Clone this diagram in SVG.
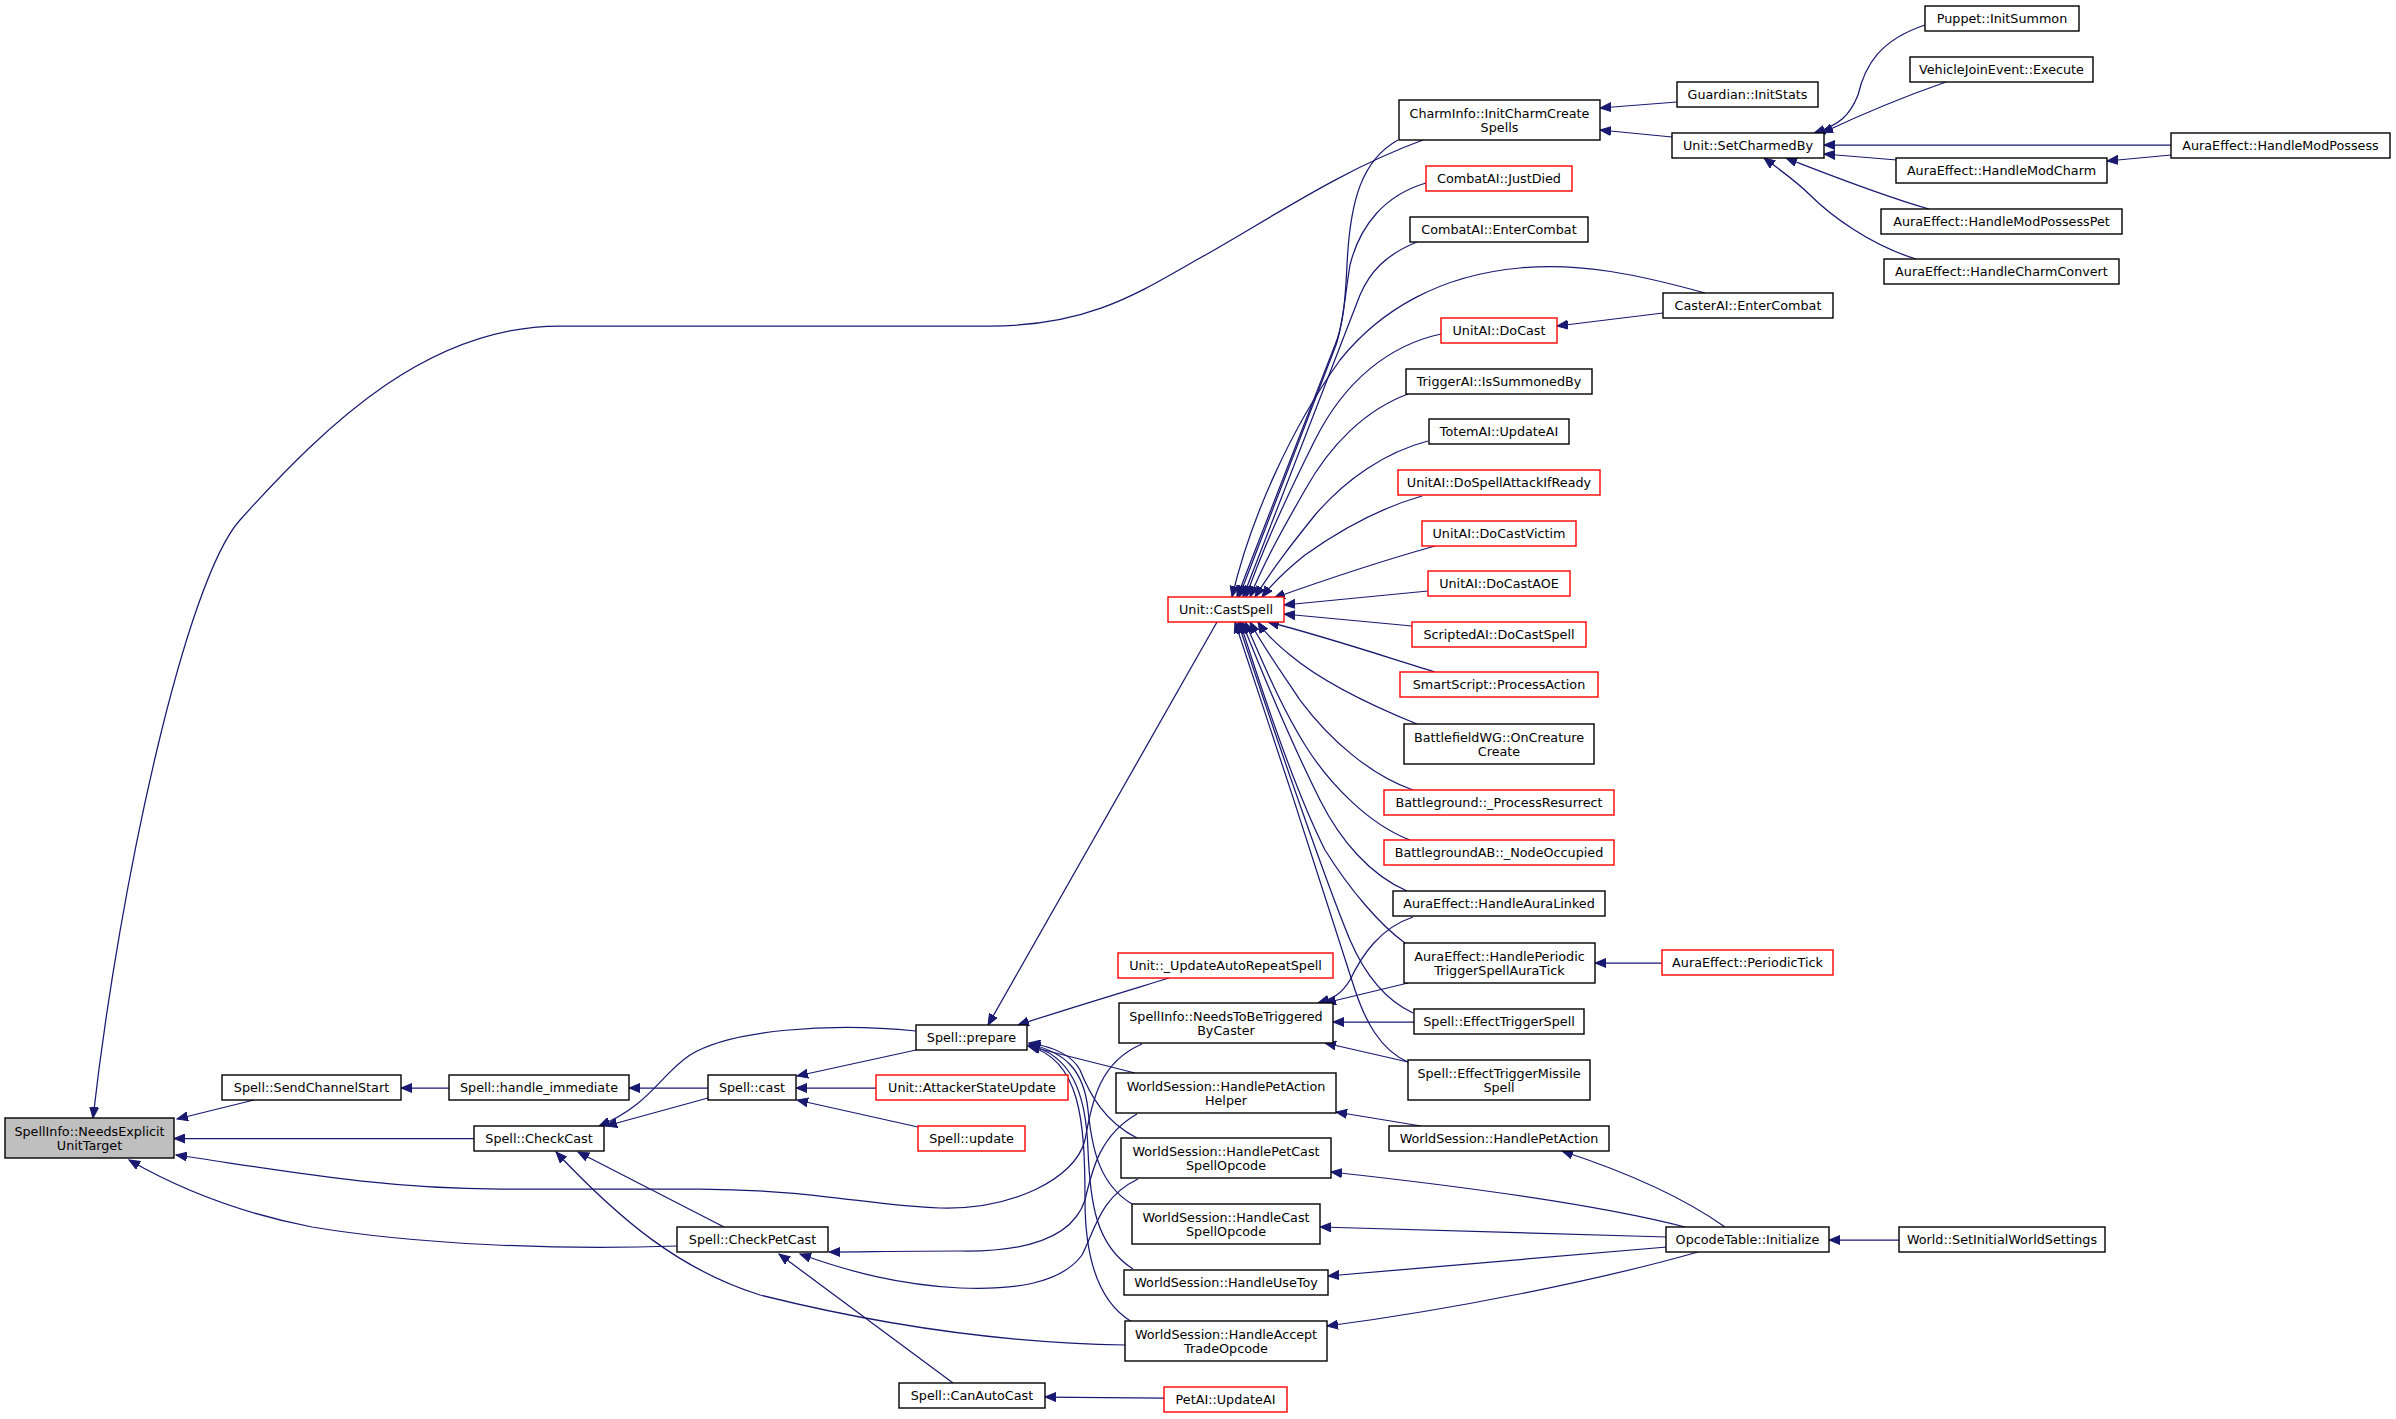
<svg xmlns="http://www.w3.org/2000/svg" width="2396" height="1419" viewBox="0 0 2396 1419">
<style>
.n rect{fill:#fff;stroke:#000;stroke-width:1.4}
.r rect{fill:#fff;stroke:#f00;stroke-width:1.4}
.root rect{fill:#bfbfbf;stroke:#000;stroke-width:1.4}
text{font-family:"DejaVu Sans","Liberation Sans",sans-serif;font-size:12.75px;text-anchor:middle;fill:#000}
.e path{fill:none;stroke:#191970;stroke-width:1.25;marker-end:url(#a)}
</style>
<defs>
<marker id="a" markerWidth="12" markerHeight="10" refX="11" refY="5" orient="auto" markerUnits="userSpaceOnUse">
<path d="M0,0.5 L11,5 L0,9.5 z" fill="#191970" stroke="#191970" stroke-width="1"/>
</marker>
</defs>
<rect width="2396" height="1419" fill="#fff"/>
<g class="e" id="edges">
<path d="M1423,140 C1340,170 1260,225 1200,258 C1140,292 1090,326 990,326 L560,326 C430,326 330,420 240,520 C186,580 120,880 93,1118"/>
<path d="M254,1100 L177,1119"/>
<path d="M449,1088 L401,1088"/>
<path d="M474,1138.5 L174,1138.5"/>
<path d="M677,1246 C560,1250 420,1245 312,1227 C250,1215 190,1195 129,1160"/>
<path d="M1142,1044 C1100,1062 1092,1100 1085,1140 C1075,1180 1010,1210 940,1208 C870,1206 820,1190 700,1189 L500,1189 C380,1189 280,1170 176,1155"/>
<path d="M708,1088 L629,1088"/>
<path d="M708,1098 L606,1126"/>
<path d="M916,1031 C830,1022 730,1030 690,1055 C660,1075 650,1105 599,1126"/>
<path d="M916,1050 L797,1076"/>
<path d="M876,1088 L796,1088"/>
<path d="M918,1127 L797,1100"/>
<path d="M1217,622 L988,1025"/>
<path d="M1169,978 C1130,990 1070,1008 1018,1025"/>
<path d="M1135,1073 L1028,1046"/>
<path d="M1137,1138 C1105,1122 1090,1095 1080,1070 C1072,1055 1055,1047 1029,1043"/>
<path d="M1132,1204 C1100,1185 1092,1150 1088,1110 C1084,1070 1065,1052 1029,1044"/>
<path d="M1133,1269 C1095,1245 1090,1200 1088,1150 C1086,1090 1070,1055 1029,1045"/>
<path d="M1132,1322 C1095,1300 1085,1250 1085,1200 C1085,1120 1080,1060 1029,1046"/>
<path d="M1137,1114 C1100,1135 1092,1170 1085,1200 C1072,1240 1020,1252 960,1251 C900,1251 860,1252 829,1252"/>
<path d="M1138,1179 C1100,1197 1095,1230 1082,1255 C1060,1285 1010,1290 960,1288 C900,1285 850,1272 800,1254"/>
<path d="M953,1383 L779,1254"/>
<path d="M1164,1398 L1045,1397"/>
<path d="M1125,1345 C1000,1343 880,1325 760,1295 C680,1270 620,1220 556,1152"/>
<path d="M724,1227 L578,1152"/>
<path d="M1414,1022 L1333,1022"/>
<path d="M1408,983 L1325,1003"/>
<path d="M1413,917 C1380,928 1362,955 1350,980 C1342,993 1335,998 1318,1003"/>
<path d="M1408,1062 L1325,1043"/>
<path d="M1421,1126 L1336,1112"/>
<path d="M1725,1227 C1680,1195 1620,1170 1562,1151"/>
<path d="M1685,1227 C1600,1205 1450,1185 1331,1172"/>
<path d="M1667,1237 L1320,1227"/>
<path d="M1667,1247 L1328,1276"/>
<path d="M1698,1252 C1600,1280 1450,1310 1327,1326"/>
<path d="M1899,1240 L1829,1240"/>
<path d="M1662,963 L1595,963"/>
<path d="M1677,102 L1600,108"/>
<path d="M1672,137 L1600,130"/>
<path d="M1925,25 C1880,40 1865,65 1858,95 C1850,115 1840,125 1814,133"/>
<path d="M1946,82 C1900,98 1860,115 1822,133"/>
<path d="M2171,145 L1824,145"/>
<path d="M1897,160 L1824,154"/>
<path d="M2171,155 L2107,161"/>
<path d="M1929,209 C1880,195 1830,175 1786,158"/>
<path d="M1916,259 C1870,245 1830,215 1810,195 C1795,180 1780,170 1764,158"/>
<path d="M1663,313 L1557,326"/>
<path d="M1705,293 C1640,275 1580,262 1520,268 C1440,275 1380,310 1340,360 C1290,430 1250,520 1232,597"/>
<path d="M1398,140 C1362,160 1350,200 1347,265 C1345,305 1343,325 1335,345 L1237,597"/>
<path d="M1426,183 C1385,195 1360,225 1350,265 C1345,295 1343,325 1336,345 L1239,597"/>
<path d="M1417,242 C1385,255 1370,272 1360,295 L1243,597"/>
<path d="M1441,334 C1390,345 1345,380 1315,440 C1290,490 1262,550 1246,597"/>
<path d="M1408,394 C1365,410 1330,445 1305,490 C1285,525 1265,560 1250,597"/>
<path d="M1428,441 C1385,452 1345,480 1315,515 C1295,540 1275,565 1255,597"/>
<path d="M1422,496 C1380,508 1340,530 1305,555 C1290,567 1275,580 1262,597"/>
<path d="M1435,546 C1385,560 1330,578 1274,598"/>
<path d="M1428,591 L1284,605"/>
<path d="M1412,626 L1284,614"/>
<path d="M1435,672 C1380,655 1320,635 1268,622"/>
<path d="M1417,724 C1370,705 1320,680 1290,655 C1275,643 1265,633 1258,622"/>
<path d="M1413,790 C1370,775 1330,740 1300,700 C1280,670 1262,645 1250,622"/>
<path d="M1410,840 C1370,825 1330,785 1305,745 C1280,705 1262,660 1245,622"/>
<path d="M1407,891 C1370,875 1340,840 1320,800 C1295,750 1265,680 1242,622"/>
<path d="M1405,943 C1380,925 1350,890 1325,850 C1295,790 1265,700 1240,622"/>
<path d="M1413,1013 C1385,1000 1365,975 1350,940 C1325,880 1270,720 1238,622"/>
<path d="M1408,1062 C1380,1050 1365,1020 1355,990 C1330,910 1268,720 1235,622"/>
</g>
<g id="n0" class="root"><rect x="5" y="1118" width="169" height="40"/><text x="89.5" y="1135.5">SpellInfo::NeedsExplicit</text><text x="89.5" y="1149.5">UnitTarget</text></g>
<g id="n1" class="n"><rect x="222" y="1075" width="179" height="25"/><text x="311.5" y="1092">Spell::SendChannelStart</text></g>
<g id="n2" class="n"><rect x="449" y="1075" width="180" height="25"/><text x="539" y="1092">Spell::handle_immediate</text></g>
<g id="n3" class="n"><rect x="474" y="1126" width="130" height="25"/><text x="539" y="1143">Spell::CheckCast</text></g>
<g id="n4" class="n"><rect x="677" y="1227" width="151" height="25"/><text x="752.5" y="1244">Spell::CheckPetCast</text></g>
<g id="n5" class="n"><rect x="708" y="1075" width="88" height="25"/><text x="752" y="1092">Spell::cast</text></g>
<g id="n6" class="n"><rect x="916" y="1025" width="111" height="25"/><text x="971.5" y="1042">Spell::prepare</text></g>
<g id="n7" class="r"><rect x="876" y="1075" width="192" height="25"/><text x="972" y="1092">Unit::AttackerStateUpdate</text></g>
<g id="n8" class="r"><rect x="918" y="1126" width="107" height="25"/><text x="971.5" y="1143">Spell::update</text></g>
<g id="n9" class="n"><rect x="899" y="1383" width="146" height="25"/><text x="972" y="1400">Spell::CanAutoCast</text></g>
<g id="n10" class="r"><rect x="1164" y="1387" width="123" height="25"/><text x="1225.5" y="1404">PetAI::UpdateAI</text></g>
<g id="n11" class="n"><rect x="1119" y="1003" width="214" height="40"/><text x="1226" y="1020.5">SpellInfo::NeedsToBeTriggered</text><text x="1226" y="1034.5">ByCaster</text></g>
<g id="n12" class="n"><rect x="1116" y="1073" width="220" height="40"/><text x="1226" y="1090.5">WorldSession::HandlePetAction</text><text x="1226" y="1104.5">Helper</text></g>
<g id="n13" class="n"><rect x="1121" y="1138" width="210" height="40"/><text x="1226" y="1155.5">WorldSession::HandlePetCast</text><text x="1226" y="1169.5">SpellOpcode</text></g>
<g id="n14" class="n"><rect x="1132" y="1204" width="188" height="40"/><text x="1226" y="1221.5">WorldSession::HandleCast</text><text x="1226" y="1235.5">SpellOpcode</text></g>
<g id="n15" class="n"><rect x="1124" y="1270" width="204" height="25"/><text x="1226" y="1287">WorldSession::HandleUseToy</text></g>
<g id="n16" class="n"><rect x="1125" y="1321" width="202" height="40"/><text x="1226" y="1338.5">WorldSession::HandleAccept</text><text x="1226" y="1352.5">TradeOpcode</text></g>
<g id="n17" class="r"><rect x="1118" y="953" width="215" height="25"/><text x="1225.5" y="970">Unit::_UpdateAutoRepeatSpell</text></g>
<g id="n18" class="r"><rect x="1168" y="597" width="116" height="25"/><text x="1226" y="614">Unit::CastSpell</text></g>
<g id="n19" class="n"><rect x="1399" y="100" width="201" height="40"/><text x="1499.5" y="117.5">CharmInfo::InitCharmCreate</text><text x="1499.5" y="131.5">Spells</text></g>
<g id="n20" class="r"><rect x="1426" y="166" width="146" height="25"/><text x="1499" y="183">CombatAI::JustDied</text></g>
<g id="n21" class="n"><rect x="1410" y="217" width="178" height="25"/><text x="1499" y="234">CombatAI::EnterCombat</text></g>
<g id="n22" class="r"><rect x="1441" y="318" width="116" height="25"/><text x="1499" y="335">UnitAI::DoCast</text></g>
<g id="n23" class="n"><rect x="1406" y="369" width="186" height="25"/><text x="1499" y="386">TriggerAI::IsSummonedBy</text></g>
<g id="n24" class="n"><rect x="1429" y="419" width="140" height="25"/><text x="1499" y="436">TotemAI::UpdateAI</text></g>
<g id="n25" class="r"><rect x="1398" y="470" width="202" height="25"/><text x="1499" y="487">UnitAI::DoSpellAttackIfReady</text></g>
<g id="n26" class="r"><rect x="1422" y="521" width="154" height="25"/><text x="1499" y="538">UnitAI::DoCastVictim</text></g>
<g id="n27" class="r"><rect x="1428" y="571" width="142" height="25"/><text x="1499" y="588">UnitAI::DoCastAOE</text></g>
<g id="n28" class="r"><rect x="1412" y="622" width="174" height="25"/><text x="1499" y="639">ScriptedAI::DoCastSpell</text></g>
<g id="n29" class="r"><rect x="1400" y="672" width="198" height="25"/><text x="1499" y="689">SmartScript::ProcessAction</text></g>
<g id="n30" class="n"><rect x="1404" y="724" width="190" height="40"/><text x="1499" y="741.5">BattlefieldWG::OnCreature</text><text x="1499" y="755.5">Create</text></g>
<g id="n31" class="r"><rect x="1384" y="790" width="230" height="25"/><text x="1499" y="807">Battleground::_ProcessResurrect</text></g>
<g id="n32" class="r"><rect x="1384" y="840" width="230" height="25"/><text x="1499" y="857">BattlegroundAB::_NodeOccupied</text></g>
<g id="n33" class="n"><rect x="1393" y="891" width="212" height="25"/><text x="1499" y="908">AuraEffect::HandleAuraLinked</text></g>
<g id="n34" class="n"><rect x="1404" y="943" width="191" height="40"/><text x="1499.5" y="960.5">AuraEffect::HandlePeriodic</text><text x="1499.5" y="974.5">TriggerSpellAuraTick</text></g>
<g id="n35" class="n"><rect x="1414" y="1009" width="170" height="25"/><text x="1499" y="1026">Spell::EffectTriggerSpell</text></g>
<g id="n36" class="n"><rect x="1408" y="1060" width="182" height="40"/><text x="1499" y="1077.5">Spell::EffectTriggerMissile</text><text x="1499" y="1091.5">Spell</text></g>
<g id="n37" class="n"><rect x="1389" y="1126" width="220" height="25"/><text x="1499" y="1143">WorldSession::HandlePetAction</text></g>
<g id="n38" class="r"><rect x="1662" y="950" width="171" height="25"/><text x="1747.5" y="967">AuraEffect::PeriodicTick</text></g>
<g id="n39" class="n"><rect x="1666" y="1227" width="163" height="25"/><text x="1747.5" y="1244">OpcodeTable::Initialize</text></g>
<g id="n40" class="n"><rect x="1899" y="1227" width="206" height="25"/><text x="2002" y="1244">World::SetInitialWorldSettings</text></g>
<g id="n41" class="n"><rect x="1677" y="82" width="141" height="25"/><text x="1747.5" y="99">Guardian::InitStats</text></g>
<g id="n42" class="n"><rect x="1672" y="133" width="152" height="25"/><text x="1748" y="150">Unit::SetCharmedBy</text></g>
<g id="n43" class="n"><rect x="1663" y="293" width="170" height="25"/><text x="1748" y="310">CasterAI::EnterCombat</text></g>
<g id="n44" class="n"><rect x="1925" y="6" width="154" height="25"/><text x="2002" y="23">Puppet::InitSummon</text></g>
<g id="n45" class="n"><rect x="1910" y="57" width="183" height="25"/><text x="2001.5" y="74">VehicleJoinEvent::Execute</text></g>
<g id="n46" class="n"><rect x="2171" y="133" width="219" height="25"/><text x="2280.5" y="150">AuraEffect::HandleModPossess</text></g>
<g id="n47" class="n"><rect x="1896" y="158" width="211" height="25"/><text x="2001.5" y="175">AuraEffect::HandleModCharm</text></g>
<g id="n48" class="n"><rect x="1881" y="209" width="241" height="25"/><text x="2001.5" y="226">AuraEffect::HandleModPossessPet</text></g>
<g id="n49" class="n"><rect x="1884" y="259" width="235" height="25"/><text x="2001.5" y="276">AuraEffect::HandleCharmConvert</text></g>
</svg>
